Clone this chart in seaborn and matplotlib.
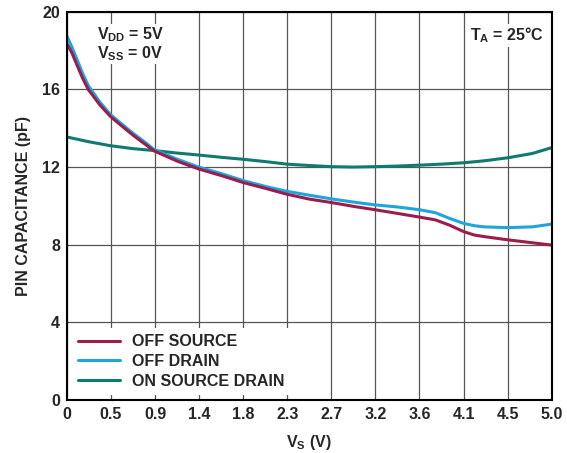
import numpy as np
import pandas as pd
import matplotlib
matplotlib.use('Agg')
import matplotlib.pyplot as plt
import seaborn as sns

# values
vs_off = [0, 0.05, 0.1, 0.16, 0.22, 0.34, 0.45, 0.57, 0.68, 0.8, 0.9, 1.14, 1.36, 1.6, 1.82, 2.05, 2.27,
          2.5, 2.73, 2.95, 3.18, 3.4, 3.64, 3.8, 3.95, 4.09, 4.2, 4.3, 4.55, 4.8, 5.0]
off_source = [18.35, 17.9, 17.3, 16.6, 16.0, 15.2, 14.6, 14.1, 13.65, 13.2, 12.83, 12.3, 11.9, 11.55, 11.2,
              10.9, 10.6, 10.35, 10.17, 9.98, 9.8, 9.62, 9.42, 9.28, 9.0, 8.68, 8.5, 8.42, 8.25, 8.1, 7.98]
off_drain = [18.75, 18.2, 17.6, 16.85, 16.2, 15.35, 14.7, 14.2, 13.75, 13.3, 12.9, 12.4, 12.0, 11.65, 11.3,
             11.0, 10.75, 10.55, 10.36, 10.2, 10.05, 9.95, 9.8, 9.65, 9.35, 9.1, 8.98, 8.92, 8.88, 8.92, 9.06]

vs_on = [0, 0.23, 0.45, 0.68, 0.9, 1.14, 1.36, 1.6, 1.82, 2.05, 2.27, 2.5, 2.73, 2.95, 3.18, 3.4,
         3.64, 3.86, 4.09, 4.3, 4.55, 4.8, 5.0]
on_source_drain = [13.55, 13.3, 13.1, 12.95, 12.85, 12.72, 12.62, 12.5, 12.4, 12.28, 12.15, 12.08, 12.02, 12.0,
                   12.02, 12.05, 12.1, 12.15, 12.22, 12.32, 12.48, 12.7, 13.0]

xtick_pos = [i * 5.0 / 11 for i in range(12)]
xtick_labels = ['0', '0.5', '0.9', '1.4', '1.8', '2.3', '2.7', '3.2', '3.6', '4.1', '4.5', '5.0']
ytick_pos = [0, 4, 8, 12, 16, 20]

colors = {'OFF SOURCE': '#9c1c4b', 'OFF DRAIN': '#1ca6dc', 'ON SOURCE DRAIN': '#0f7a70'}

df = pd.concat([
    pd.DataFrame({'vs': vs_off, 'c': off_source, 'curve': 'OFF SOURCE'}),
    pd.DataFrame({'vs': vs_off, 'c': off_drain, 'curve': 'OFF DRAIN'}),
    pd.DataFrame({'vs': vs_on, 'c': on_source_drain, 'curve': 'ON SOURCE DRAIN'}),
])

sns.set_style('white')
plt.rcParams['font.family'] = ['Liberation Sans', 'DejaVu Sans']
plt.rcParams['font.weight'] = 'bold'
plt.rcParams['mathtext.fontset'] = 'custom'
plt.rcParams['mathtext.rm'] = 'Liberation Sans:bold'
plt.rcParams['mathtext.it'] = 'Liberation Sans:bold'
plt.rcParams['mathtext.bf'] = 'Liberation Sans:bold'

fig = plt.figure(figsize=(5.67, 4.53), dpi=100)
ax = fig.add_axes([0.118, 0.117, 0.855, 0.857])

# ON curve first so the off curves sit on top
for name in ['ON SOURCE DRAIN', 'OFF DRAIN', 'OFF SOURCE']:
    sub = df[df.curve == name]
    sns.lineplot(data=sub, x='vs', y='c', color=colors[name], lw=2.2, ax=ax, label=name,
                 estimator=None, sort=True)

ax.set_xlim(0, 5.0)
ax.set_ylim(0, 20)
ax.set_xticks(xtick_pos)
ax.set_xticklabels(xtick_labels)
ax.set_yticks(ytick_pos)
ax.tick_params(axis='both', length=0, labelsize=11.5, pad=5)
ax.grid(True, color='#555555', lw=0.9)
for s in ax.spines.values():
    s.set_color('black')
    s.set_linewidth(1.5)

ax.set_xlabel(r'V$_{\mathrm{S}}$ (V)', fontsize=11.5, fontweight='bold', labelpad=8)
ax.set_ylabel('PIN CAPACITANCE (pF)', fontsize=11.5, fontweight='bold', labelpad=8)

ax.text(0.062, 0.965, r'V$_{\mathrm{DD}}$ = 5V' + '\n' + r'V$_{\mathrm{SS}}$ = 0V', transform=ax.transAxes,
        fontsize=11.5, fontweight='bold', va='top', ha='left', linespacing=1.0,
        bbox=dict(facecolor='white', edgecolor='none', pad=1))
ax.text(0.985, 0.965, r'T$_{\mathrm{A}}$ = 25°C', transform=ax.transAxes,
        fontsize=11.5, fontweight='bold', va='top', ha='right',
        bbox=dict(facecolor='white', edgecolor='none', pad=1))

handles, labels = ax.get_legend_handles_labels()
order = [labels.index(n) for n in ['OFF SOURCE', 'OFF DRAIN', 'ON SOURCE DRAIN']]
leg = ax.legend([handles[i] for i in order], [labels[i] for i in order], loc='lower left',
                bbox_to_anchor=(0.0, 0.0), frameon=True, framealpha=1, edgecolor='none',
                fontsize=11.5, handlelength=2.6, handletextpad=0.8, labelspacing=0.3,
                borderaxespad=0.3, fancybox=False)

fig.savefig('out.png', dpi=100)
